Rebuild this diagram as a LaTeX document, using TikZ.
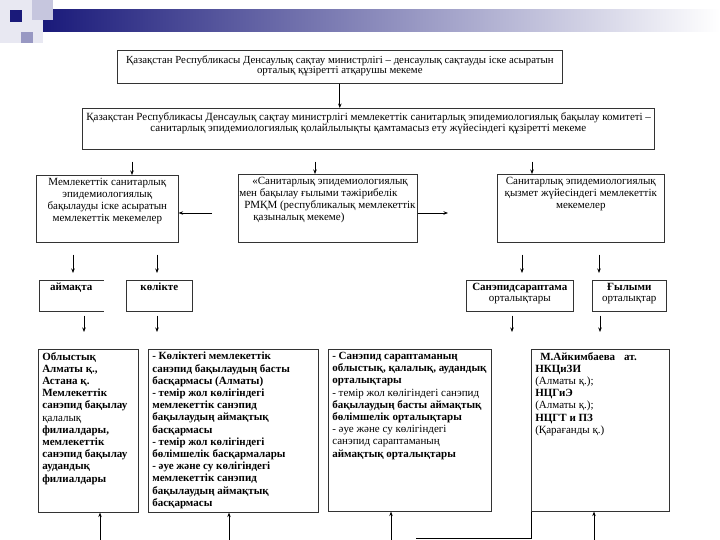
\documentclass[tikz,border=0pt]{standalone}
\usepackage{fontspec}
\setmainfont{Liberation Serif}
\usetikzlibrary{arrows.meta}
\definecolor{deco}{RGB}{26,26,122}
\newcommand{\boxtxt}[3]{\parbox[t][#2][t]{#1}{#3}}
\tikzset{
	box/.style={draw=black!80, line width=0.6pt, inner xsep=4pt, inner ysep=3pt, anchor=north west},
	boxline/.style={draw=black!80, line width=0.6pt},
	arr/.style={-{Stealth[length=4.5pt,width=3.5pt]}, line width=0.7pt},
	plain/.style={line width=0.7pt}
}

\begin{document}
\begin{tikzpicture}[x=1pt,y=-1pt]
			%%%%% START %%%%%
			\useasboundingbox (0,0) rectangle (720,540);
			
			\fill[deco!10] (0,0) rectangle (43,43);
			\shade[left color=deco, right color=white] (43,10) rectangle (720,32);
			\fill[deco!25] (32,0) rectangle (53,20);
			\fill[deco!45] (21,32) rectangle (33,43);
			\fill[deco] (10,10) rectangle (22,22);
			
			\node[box] (minis) at (117,50) {\boxtxt{437pt}{27pt}{\centering\fontsize{10.8}{10}\selectfont\vspace*{2pt}Қазақстан Республикасы Денсаулық сақтау министрлігі -- денсаулық сақтауды іске асыратын\\ орталық құзіретті атқарушы мекеме}};
			\node[box] (komit) at (82,108) {\boxtxt{564pt}{35pt}{\centering\fontsize{11}{9.5}\selectfont\vspace*{1pt}\mbox{Қазақстан Республикасы Денсаулық сақтау министрлігі мемлекеттік санитарлық эпидемиологиялық бақылау комитеті --}\\ санитарлық эпидемиологиялық қолайлылықты қамтамасыз ету жүйесіндегі құзіретті мекеме}};
			
			\node[box] (gosk) at (36,175) {\boxtxt{134pt}{61pt}{\centering\fontsize{11}{12}\selectfont Мемлекеттік санитарлық\\ эпидемиологиялық\\ бақылауды іске асыратын\\ мемлекеттік мекемелер}};
			\node[box] (rmkm) at (238,174) {\boxtxt{171pt}{62pt}{\raggedright\fontsize{11}{12}\selectfont \hspace*{10pt}\mbox{«Санитарлық эпидемиологиялық}\\ \hspace*{-3pt}\mbox{мен бақылау ғылыми тәжірибелік}\\ \hspace*{2pt}\mbox{РМҚМ (республикалық мемлекеттік}\\ \hspace*{11pt}қазыналық мекеме)}};
			\node[box] (sanep) at (497,174) {\boxtxt{159pt}{62pt}{\centering\fontsize{11}{12}\selectfont Санитарлық эпидемиологиялық\\ қызмет жүйесіндегі мемлекеттік\\ мекемелер}};
			
			\coordinate (lfree) at (212,213);
			\coordinate (rfree) at (448,213);
			\draw[arr] (lfree) -- (gosk.east |- lfree);
			\draw[arr] (rmkm.east |- rfree) -- (rfree);
			
			\node[box, draw=none] (aimak) at (39,280) {\boxtxt{56pt}{25pt}{\centering\bfseries\fontsize{11}{12}\selectfont аймақта}};
			\draw[boxline] (aimak.north east) -- (aimak.north west) -- (aimak.south west) -- (aimak.south east);
			\node[box] (kolik) at (126,280) {\boxtxt{58pt}{25pt}{\centering\bfseries\fontsize{11}{12}\selectfont көлікте}};
			\node[box] (sarap) at (466,280) {\boxtxt{99pt}{25pt}{\centering\fontsize{11}{11}\selectfont\textbf{Санэпидсараптама}\\ орталықтары}};
			\node[box] (gylym) at (592,280) {\boxtxt{66pt}{25pt}{\centering\fontsize{11}{11}\selectfont\textbf{Ғылыми}\\ орталықтар}};
			
			\node[box] (oblys) at (38,349) {\boxtxt{92pt}{157pt}{\raggedright\bfseries\fontsize{11}{12.2}\selectfont Облыстық\\ Алматы қ.,\\ Астана қ.\\ Мемлекеттік\\ санэпид бақылау\\ \textmd{қалалық}\\ филиалдары,\\ мемлекеттік\\ санэпид бақылау\\ аудандық\\ филиалдары}};
			\node[box] (kolikb) at (148,349) {\boxtxt{162pt}{157pt}{\raggedright\bfseries\fontsize{11}{12.2}\selectfont - Көліктегі мемлекеттік\\ санэпид бақылаудың басты\\ басқармасы (Алматы)\\ - темір жол көлігіндегі\\ мемлекеттік санэпид\\ бақылаудың аймақтық\\ басқармасы\\ - темір жол көлігіндегі\\ бөлімшелік басқармалары\\ - әуе және су көлігіндегі\\ мемлекеттік санэпид\\ бақылаудың аймақтық\\ басқармасы}};
			\node[box] (sarapb) at (328,349) {\boxtxt{155pt}{156pt}{\raggedright\bfseries\fontsize{11}{12.2}\selectfont - Санэпид сараптаманың\\ облыстық, қалалық, аудандық\\ орталықтары\\ \textmd{- темір жол көлігіндегі санэпид}\\ бақылаудың басты аймақтық\\ бөлімшелік орталықтары\\ \textmd{- әуе және су көлігіндегі}\\ \textmd{санэпид сараптаманың}\\ аймақтық орталықтары}};
			\node[box] (aikim) at (531,349) {\boxtxt{130pt}{156pt}{\raggedright\bfseries\fontsize{11}{12.2}\selectfont \hspace*{5pt}М.Айкимбаева\hspace{9pt}ат.\\ НКЦиЗИ\\ \textmd{(Алматы қ.);}\\ НЦГиЭ\\ \textmd{(Алматы қ.);}\\ НЦГТ и ПЗ\\ \textmd{(Қарағанды қ.)}}};
			
			\draw[arr] (minis.south) -- (minis.south |- komit.north);
			\draw[arr, shorten <=12pt] (komit.south -| 132,0) -- (gosk.north -| 132,0);
			\draw[arr, shorten <=12pt] (komit.south -| 315,0) -- (rmkm.north -| 315,0);
			\draw[arr, shorten <=12pt] (komit.south -| 532,0) -- (sanep.north -| 532,0);
			
			\draw[arr, shorten <=12pt, shorten >=7pt] (gosk.south -| 73,0) -- (aimak.north -| 73,0);
			\draw[arr, shorten <=12pt, shorten >=7pt] (gosk.south -| 157,0) -- (kolik.north -| 157,0);
			\draw[arr, shorten <=12pt, shorten >=7pt] (sanep.south -| 522,0) -- (sarap.north -| 522,0);
			\draw[arr, shorten <=12pt, shorten >=7pt] (sanep.south -| 599,0) -- (gylym.north -| 599,0);
			
			\draw[arr, shorten <=4pt, shorten >=17pt] (aimak.south -| 84,0) -- (oblys.north -| 84,0);
			\draw[arr, shorten <=4pt, shorten >=17pt] (kolik.south -| 157,0) -- (kolikb.north -| 157,0);
			\draw[arr, shorten <=4pt, shorten >=17pt] (sarap.south -| 512,0) -- (sarapb.north -| 512,0);
			\draw[arr, shorten <=4pt, shorten >=17pt] (gylym.south -| 600,0) -- (aikim.north -| 600,0);
			
			\foreach \x/\b in {100/oblys, 229/kolikb, 391/sarapb, 594/aikim} {
				\coordinate (feed-\b) at (\x,540);
				\draw[arr] (feed-\b) -- (\b.south -| feed-\b);
			}
			\coordinate (link) at (416,538);
			\draw[plain] (link) -| (aikim.south west);
			%%%%% END %%%%%
\end{tikzpicture}
\end{document}
